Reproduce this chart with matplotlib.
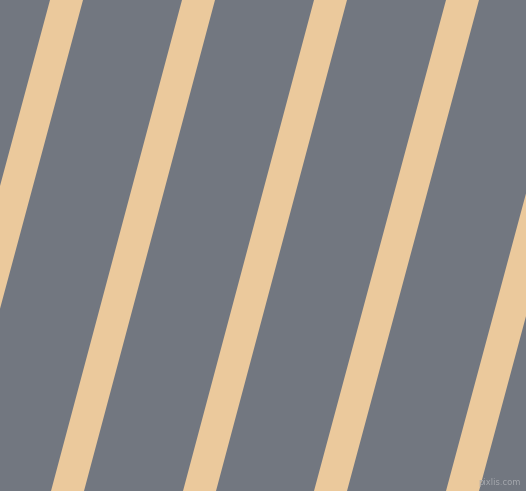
import matplotlib
matplotlib.use("Agg")
import matplotlib.pyplot as plt

WIDTH = 526
HEIGHT = 491

BACKGROUND = "#727780"
STRIPE_COLOR = "#ebc99c"

# left edge of each stripe along the top and bottom edge (pixels)
stripe_top = [-82, 50, 182, 314, 446, 578]
stripe_bottom = [-214, -82, 51, 183, 314, 446]
stripe_width = 33


def main():
    fig = plt.figure(figsize=(WIDTH / 100, HEIGHT / 100), dpi=100)
    ax = fig.add_axes([0, 0, 1, 1])
    ax.set_xlim(0, WIDTH)
    ax.set_ylim(HEIGHT, 0)
    ax.set_facecolor(BACKGROUND)
    fig.patch.set_facecolor(BACKGROUND)
    ax.axis("off")

    for top, bottom in zip(stripe_top, stripe_bottom):
        xs = [top, top + stripe_width, bottom + stripe_width, bottom]
        ys = [0, 0, HEIGHT, HEIGHT]
        ax.fill(xs, ys, color=STRIPE_COLOR, linewidth=0)

    ax.text(
        521, 487, "pixlis.com",
        ha="right", va="bottom", fontsize=6,
        color="#a4a7ad", family="DejaVu Sans",
    )

    fig.savefig("out.png", dpi=100, facecolor=BACKGROUND)


if __name__ == "__main__":
    main()
